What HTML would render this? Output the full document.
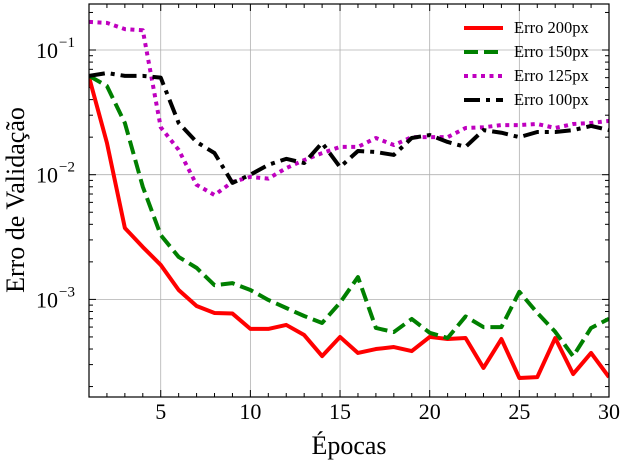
<!DOCTYPE html>
<html><head><meta charset="utf-8"><style>
body{margin:0;background:#fff}
svg text{font-family:"Liberation Serif",serif;fill:#000}
</style></head><body>
<svg id="chart" width="626" height="465" xmlns="http://www.w3.org/2000/svg"></svg>
<script>
const epochs = Array.from({length:30},(_,i)=>i+1);
const err200 = [0.0607,0.018,0.00374,0.00263,0.00189,0.00119,0.000885,0.000778,0.00077,0.00058,0.00058,0.000624,0.000518,0.000351,0.0005,0.000372,0.0004,0.000415,0.000385,0.0005,0.000481,0.00049,0.000282,0.000481,0.000234,0.000238,0.00049,0.000252,0.000372,0.000238];
const err150 = [0.062,0.0514,0.026,0.008,0.00328,0.00219,0.00179,0.0013,0.00135,0.00119,0.00099,0.000853,0.000736,0.000647,0.00094,0.00151,0.00059,0.000547,0.000697,0.00054,0.00049,0.00073,0.0006,0.0006,0.00115,0.00078,0.00055,0.00035,0.00059,0.0007];
const err125 = [0.168,0.165,0.147,0.144,0.024,0.0158,0.0083,0.00687,0.00875,0.0096,0.0093,0.0113,0.0131,0.0149,0.0167,0.0167,0.0197,0.0173,0.02,0.02,0.02,0.0237,0.024,0.025,0.025,0.0255,0.0237,0.0255,0.026,0.027];
const err100 = [0.062,0.0654,0.062,0.062,0.06,0.026,0.0183,0.0149,0.0086,0.01,0.012,0.0134,0.0124,0.018,0.0115,0.0155,0.0152,0.0144,0.0197,0.0208,0.0183,0.0167,0.0228,0.0217,0.02,0.022,0.022,0.0228,0.0246,0.0228];
const xTicks = [5,10,15,20,25,30];
const yTickExps = [-1,-2,-3];

const NS="http://www.w3.org/2000/svg";
const svg=document.getElementById('chart');
const L=89,R=609,T=4,B=397;
const xs=e=>L+(e-1)*(R-L)/29;
const ys=v=>50+(-1-Math.log10(v))*124.7;
function mk(tag,attrs,parent){const el=document.createElementNS(NS,tag);for(const k in attrs)el.setAttribute(k,attrs[k]);(parent||svg).appendChild(el);return el;}

const grid=mk('g',{});


const ticks=mk('g',{stroke:'#000','stroke-width':1});


for(let e=1;e<=30;e++){
  const x=xs(e), major=e%5===0, len=major?7:4;
  mk('line',{x1:x,x2:x,y1:B,y2:B-len},ticks);
  mk('line',{x1:x,x2:x,y1:T,y2:T+len},ticks);
  if(major&&e<30) mk('line',{x1:x,x2:x,y1:T,y2:B,stroke:'#b0b0b0','stroke-width':0.8},grid);
}
for(let d=-4;d<=0;d++){for(let m=1;m<10;m++){
  const v=m*Math.pow(10,d), y=ys(v);
  if(y<T||y>B)continue;
  const len=m===1?7:4;
  mk('line',{x1:L,x2:L+len,y1:y,y2:y},ticks);
  mk('line',{x1:R,x2:R-len,y1:y,y2:y},ticks);
  if(m===1) mk('line',{x1:L,x2:R,y1:y,y2:y,stroke:'#b0b0b0','stroke-width':0.8},grid);
}}
xTicks.forEach(t=>{
  const tx=mk('text',{x:xs(t),y:419,'font-size':22,'text-anchor':'middle'});
  tx.textContent=t;
  
  
});
yTickExps.forEach(p=>{
  const y=ys(Math.pow(10,p));
  const tx=mk('text',{x:58,y:y+8,'font-size':22,'text-anchor':'end'});
  tx.textContent='10';
  
  
  const sp=mk('text',{x:59,y:y-3,'font-size':15});
  sp.textContent='\u2212'+(-p);
  
  
});

const series=[
  {d:err200,c:'#ff0000',dash:'',name:'Erro 200px'},
  {d:err150,c:'#008000',dash:'14 6',name:'Erro 150px'},
  {d:err125,c:'#bf00bf',dash:'4 4.5',name:'Erro 125px'},
  {d:err100,c:'#000000',dash:'16 6 4 6',name:'Erro 100px'}
];
const clip=mk('clipPath',{id:'pc'});mk('rect',{x:L,y:T,width:R-L,height:B-T},clip);
series.forEach((s,i)=>{
  const p=mk('polyline',{points:s.d.map((v,j)=>xs(epochs[j])+','+ys(v)).join(' '),fill:'none',stroke:s.c,'stroke-width':4,'stroke-dasharray':s.dash,'clip-path':'url(#pc)','stroke-linejoin':'round'});
  
  
  const ly=28+i*24;
  const g=mk('g',{});
  
  
  mk('line',{x1:464,x2:503,y1:ly,y2:ly,stroke:s.c,'stroke-width':4,'stroke-dasharray':s.dash},g);
  const t=mk('text',{x:514,y:ly+5,'font-size':16.5},g);t.textContent=s.name;
});
const frame=mk('rect',{x:L,y:T,width:R-L,height:B-T,fill:'none',stroke:'#000','stroke-width':1.2});


const xl=mk('text',{x:349,y:454,'font-size':26,'text-anchor':'middle'});
xl.textContent='Épocas';


const yl=mk('text',{x:0,y:0,'font-size':26,'text-anchor':'middle',transform:'translate(24,200) rotate(-90)'});
yl.textContent='Erro de Validação';


</script>
</body></html>
